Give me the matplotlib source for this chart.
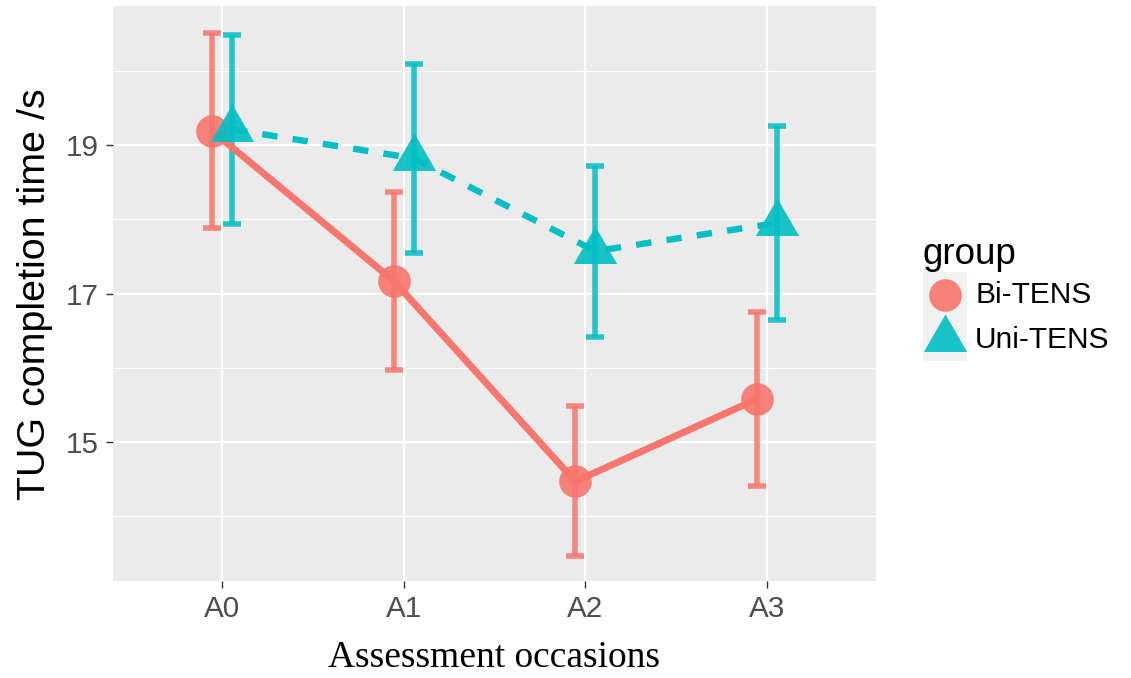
import matplotlib
matplotlib.use("Agg")
import matplotlib.pyplot as plt
from matplotlib.patches import Rectangle
import numpy as np

occasions = ["A0", "A1", "A2", "A3"]
bi_mean = [19.19, 17.17, 14.47, 15.58]
bi_se = [1.31, 1.20, 1.01, 1.17]
uni_mean = [19.21, 18.82, 17.57, 17.95]
uni_se = [1.27, 1.27, 1.15, 1.30]
groups = ["Bi-TENS", "Uni-TENS"]

RED = "#F8766D"
TEAL = "#00BFC4"
SANS = ["Liberation Sans", "DejaVu Sans"]
SERIF = ["Liberation Serif", "DejaVu Serif"]

# triangle centred on its centroid, like R's pch 17
tri = [(0, 1), (-0.866, -0.5), (0.866, -0.5), (0, 1)]

fig = plt.figure(figsize=(11.31, 6.78), dpi=100)
W, H = 1131, 678
ax = fig.add_axes([113 / W, 1 - 581 / H, (876 - 113) / W, (581 - 6) / H])
ax.set_facecolor("#EBEBEB")

x = np.arange(1, len(occasions) + 1)
dodge = 0.055

for xs, m, e, col in [
    (x - dodge, bi_mean, bi_se, RED),
    (x + dodge, uni_mean, uni_se, TEAL),
]:
    ax.errorbar(xs, m, yerr=e, fmt="none", ecolor=col, alpha=0.85,
                elinewidth=4, capsize=6.4, capthick=4, zorder=3)

ax.plot(x - dodge, bi_mean, color=RED, lw=5, solid_capstyle="butt", zorder=4)
ax.plot(x + dodge, uni_mean, color=TEAL, lw=4.6, dashes=(2.4, 2.4),
        dash_capstyle="butt", zorder=4)
ax.plot(x - dodge, bi_mean, "o", color=RED, ms=23.5, mew=0, alpha=0.9, zorder=5)
ax.plot(x + dodge, uni_mean, marker=tri, ls="none", color=TEAL, ms=36, mew=0,
        alpha=0.9, zorder=5)

ax.set_xlim(0.4, 4.6)
ax.set_ylim(13.13, 20.87)
ax.set_xticks(x)
ax.set_xticklabels(occasions)
ax.set_yticks([15, 17, 19])
ax.set_yticks([14, 16, 18, 20], minor=True)
ax.grid(True, which="major", color="white", lw=1.6)
ax.grid(True, which="minor", axis="y", color="white", lw=0.8)
ax.set_axisbelow(True)
for s in ax.spines.values():
    s.set_visible(False)
ax.tick_params(which="major", length=5.3, width=1, color="#333333", pad=4.8,
               labelsize=21.3, labelcolor="#4D4D4D")
ax.tick_params(which="minor", length=0)
for lab in ax.get_xticklabels() + ax.get_yticklabels():
    lab.set_family(SANS)

fig.text(35 / W, 1 - 294 / H, "TUG completion time /s", rotation=90,
         ha="center", va="center", fontsize=28.4, family=SANS)
fig.text(494 / W, 1 - 658 / H, "Assessment occasions", ha="center",
         va="center", fontsize=27, family=SERIF)

# legend drawn in pixel coordinates on top of the figure
lax = fig.add_axes([0, 0, 1, 1])
lax.set_xlim(0, W)
lax.set_ylim(H, 0)
lax.axis("off")
lax.text(922, 254, "group", ha="left", va="center", fontsize=26.5, family=SANS)
key_y = [272, 316.5]
for ky, col, mk, ms, lab in zip(key_y, [RED, TEAL], ["o", tri], [23.5, 36], groups):
    lax.add_patch(Rectangle((923, ky), 44, 44.5, facecolor="#F2F2F2", lw=0))
    lax.plot([945], [ky + 22.5], marker=mk, color=col, ms=ms, mew=0, alpha=0.9)
    lax.text(975, ky + 23, lab, ha="left", va="center", fontsize=21.5, family=SANS)

fig.savefig("out.png", dpi=100)
